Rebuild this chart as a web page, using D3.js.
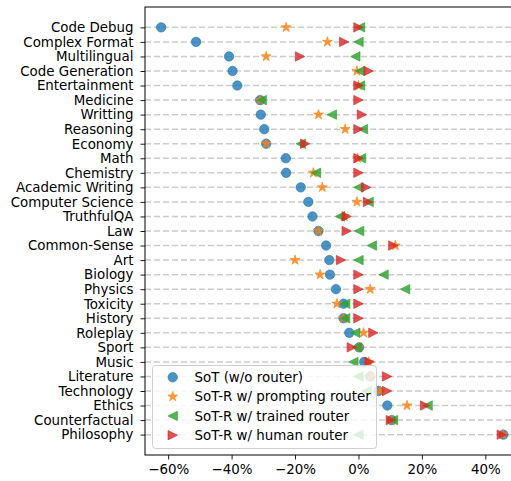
<!DOCTYPE html>
<html>
<head>
<meta charset="utf-8">
<script src="https://cdn.jsdelivr.net/npm/d3@7"></script>
<style>
  html, body { margin: 0; padding: 0; background: #fff; }
  svg { display: block; font-family: "DejaVu Sans", sans-serif; }
</style>
</head>
<body>
<svg id="chart" width="511" height="481"></svg>
<script>
const categories = ["Code Debug","Complex Format","Multilingual","Code Generation","Entertainment","Medicine","Writting","Reasoning","Economy","Math","Chemistry","Academic Writing","Computer Science","TruthfulQA","Law","Common-Sense","Art","Biology","Physics","Toxicity","History","Roleplay","Sport","Music","Literature","Technology","Ethics","Counterfactual","Philosophy"];
const sotValues =       [-62.2,-51.2,-40.8,-39.7,-38.2,-31.0,-30.8,-29.7,-29.1,-22.9,-22.8,-18.2,-15.8,-14.5,-12.6,-10.2,-9.2,-9.0,-7.1,-4.7,-4.7,-2.9,0.2,1.8,3.7,6.3,9.1,10.5,45.7];
const promptingValues = [-22.8,-9.8,-29.1,-0.5,0.0,-31.0,-12.6,-4.2,-29.1,-0.3,-14.2,-11.4,-0.5,-4.5,-12.6,11.6,-20.0,-12.1,3.7,-6.8,-4.7,1.6,0.2,3.2,3.7,6.8,15.3,10.5,45.5];
const trainedValues =   [0.5,0.0,-1.0,0.5,0.5,-30.5,-8.4,1.4,-18.2,0.8,-13.4,0.0,3.2,-5.8,0.2,4.2,0.0,7.9,14.7,-4.2,-4.2,-1.0,-0.5,-1.6,0.0,2.6,21.8,10.9,0.0];
const humanValues =     [0.0,-4.5,-18.4,3.2,0.0,0.0,1.1,0.0,-16.8,0.0,0.0,2.4,3.0,-3.7,-3.7,11.0,-5.5,0.0,0.0,0.0,0.0,4.7,-2.1,3.5,9.0,9.0,21.0,10.2,45.2];
const seriesNames = ["SoT (w/o router)","SoT-R w/ prompting router","SoT-R w/ trained router","SoT-R w/ human router"];
const xTicks = [-60,-40,-20,0,20,40];

const colors = ["#1f77b4","#ff7f0e","#2ca02c","#d62728"];
const series = [sotValues, promptingValues, trainedValues, humanValues];

const svg = d3.select("#chart");
const L = 145, R = 518, T = 7, B = 455;
const FS = 13.4;

const x = d3.scaleLinear().domain([-67.3, 50.3]).range([L, R]);
const n = categories.length;
const y = d3.scaleLinear().domain([-1.4, n - 1 + 1.4]).range([T, B]);

function circlePath(r){ return d3.symbol(d3.symbolCircle, Math.PI*r*r)(); }
function starPath(r){
  const ri = r*0.381966, pts=[];
  for(let i=0;i<10;i++){
    const a = -Math.PI/2 + i*Math.PI/5;
    const rr = i%2===0 ? r : ri;
    pts.push([rr*Math.cos(a), rr*Math.sin(a)]);
  }
  return "M"+pts.map(p=>p[0].toFixed(2)+","+p[1].toFixed(2)).join("L")+"Z";
}
function triPath(r, dir){
  return `M${dir*r},0L${-dir*r},${-r}L${-dir*r},${r}Z`;
}
const markers = [circlePath(4.7), starPath(5.2), triPath(4.7,-1), triPath(4.7,1)];

// grid lines
svg.append("g").selectAll("line").data(categories).join("line")
  .attr("x1", L).attr("x2", R)
  .attr("y1", (d,i)=>y(i)).attr("y2", (d,i)=>y(i))
  .attr("stroke", "#cccccc").attr("stroke-width", 1.5)
  .attr("stroke-dasharray", "6,3");

// markers
svg.append("clipPath").attr("id","clip").append("rect")
  .attr("x", L).attr("y", T).attr("width", R-L).attr("height", B-T);
const plot = svg.append("g").attr("clip-path","url(#clip)");
series.forEach((vals, si) => {
  plot.append("g").selectAll("path").data(vals).join("path")
    .attr("d", markers[si])
    .attr("transform", (v,i)=>`translate(${x(v)},${y(i)})`)
    .attr("fill", colors[si]).attr("fill-opacity", 0.8)
    .attr("stroke", colors[si]).attr("stroke-opacity", 0.8).attr("stroke-width", 0.8);
});

// axes
const yAxis = d3.axisLeft(y).tickValues(d3.range(n)).tickFormat(i=>categories[i])
  .tickSize(4.5).tickPadding(7);
const gy = svg.append("g").attr("transform", `translate(${L},0)`).call(yAxis);
gy.select(".domain").remove();
gy.selectAll("text").attr("font-size", FS).attr("fill", "#000").attr("font-family","DejaVu Sans, sans-serif");
gy.selectAll("line").attr("stroke", "#000").attr("stroke-width", 0.9);

const fmt = v => (v < 0 ? "\u2212" + Math.abs(v) : "" + v) + "%";
const xAxis = d3.axisBottom(x).tickValues(xTicks).tickFormat(fmt).tickSize(4.5).tickPadding(5);
const gx = svg.append("g").attr("transform", `translate(0,${B})`).call(xAxis);
gx.select(".domain").remove();
gx.selectAll("text").attr("font-size", FS).attr("fill", "#000").attr("font-family","DejaVu Sans, sans-serif");
gx.selectAll("line").attr("stroke", "#000").attr("stroke-width", 0.9);

// spines
svg.append("rect").attr("x", L).attr("y", T).attr("width", R-L).attr("height", B-T)
  .attr("fill", "none").attr("stroke", "#000").attr("stroke-width", 1);

// legend
const lg = svg.append("g");
lg.append("rect").attr("x", 152.5).attr("y", 365.5).attr("width", 224).attr("height", 83)
  .attr("rx", 3).attr("fill", "#fff").attr("fill-opacity", 0.8)
  .attr("stroke", "#d0d0d0").attr("stroke-width", 1);
const legY = [377.3, 396.6, 415.9, 435.2];
seriesNames.forEach((name, si) => {
  lg.append("path").attr("d", markers[si])
    .attr("transform", `translate(172.7,${legY[si]})`)
    .attr("fill", colors[si]).attr("fill-opacity", 0.8)
    .attr("stroke", colors[si]).attr("stroke-opacity", 0.8).attr("stroke-width", 0.8);
  lg.append("text").attr("x", 194.5).attr("y", legY[si]).attr("dy", "0.35em")
    .attr("font-size", FS).attr("fill", "#000").text(name);
});
</script>
</body>
</html>
